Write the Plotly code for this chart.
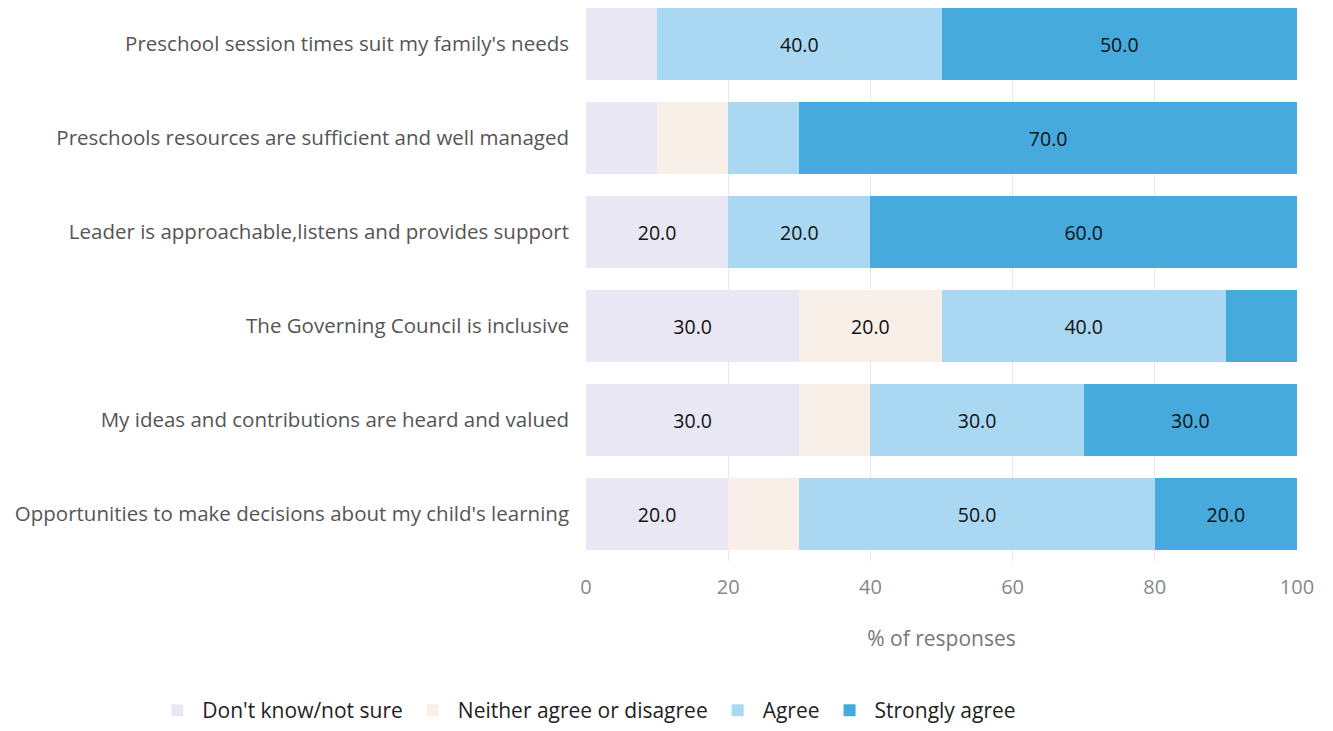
import plotly.graph_objects as go

categories = [
    "Preschool session times suit my family's needs",
    "Preschools resources are sufficient and well managed",
    "Leader is approachable,listens and provides support",
    "The Governing Council is inclusive",
    "My ideas and contributions are heard and valued",
    "Opportunities to make decisions about my child's learning",
]
dont_know = [10, 10, 20, 30, 30, 20]
neither = [0, 10, 0, 20, 10, 10]
agree = [40, 10, 20, 40, 30, 50]
strongly = [50, 70, 60, 10, 30, 20]

series = [
    ("Don't know/not sure", dont_know, "#E9E7F3"),
    ("Neither agree or disagree", neither, "#F8EFE9"),
    ("Agree", agree, "#AAD8F2"),
    ("Strongly agree", strongly, "#46AADD"),
]

fig = go.Figure()
for name, vals, color in series:
    fig.add_trace(go.Bar(
        y=categories, x=vals, name=name, orientation="h",
        marker=dict(color=color, line=dict(width=0)),
        text=[f"{v:.1f}" if v >= 20 else "" for v in vals],
        textposition="inside", insidetextanchor="middle",
        textfont=dict(color="#111", size=19.5, family="Open Sans"),
        hoverinfo="x+name",
    ))

fig.update_layout(
    barmode="stack", bargap=0.23,
    width=1325, height=723,
    margin=dict(l=578, r=36, t=0, b=166),
    paper_bgcolor="white", plot_bgcolor="white",
    font=dict(family="Open Sans", color="#444"),
    uniformtext=dict(mode="show", minsize=10),
    xaxis=dict(range=[0, 100], tickvals=[0, 20, 40, 60, 80, 100],
               showgrid=True, gridcolor="#E8E8E8", zeroline=False, automargin=False,
               ticks="outside", ticklen=8, tickcolor="rgba(0,0,0,0)",
               tickfont=dict(size=20, color="#888"),
               title=dict(text="% of responses", font=dict(size=21, color="#777"), standoff=32)),
    yaxis=dict(range=[5.5, -0.385], autorange=False, automargin=False,
               tickfont=dict(size=20.5, color="#555"), ticksuffix="   "),
    legend=dict(orientation="h", xref="paper", yref="paper",
                x=-0.61, xanchor="left", y=-0.271, yanchor="middle",
                font=dict(size=21, color="#222"), traceorder="normal",
                itemwidth=40),
)

fig.write_html("out.html")
